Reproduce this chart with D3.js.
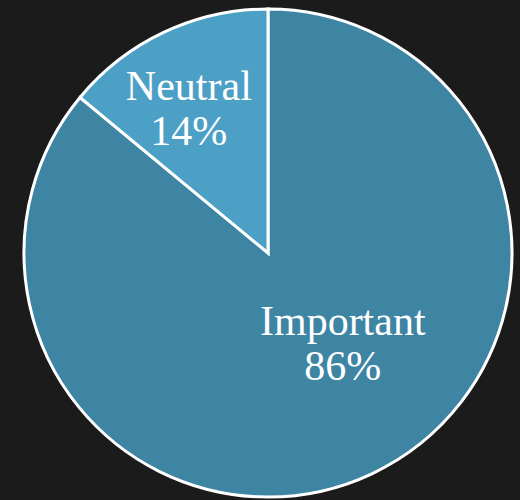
<!DOCTYPE html>
<html>
<head>
<meta charset="utf-8">
<script src="https://cdn.jsdelivr.net/npm/d3@7"></script>
<style>
html,body{margin:0;padding:0;background:#1b1b1b;}
svg{display:block;}
</style>
</head>
<body>
<svg id="chart" width="520" height="500"></svg>
<script>
const categories = ["Important", "Neutral"];
const values = [86, 14];
const labels = ["86%", "14%"];
const colors = ["#3e84a3", "#4da0c5"];

const W = 520, H = 500;
const cx = 268, cy = 253, R = 244;
const svg = d3.select("#chart");
svg.append("rect").attr("width", W).attr("height", H).attr("fill", "#1b1b1b");

const g = svg.append("g").attr("transform", `translate(${cx},${cy})`);

const pie = d3.pie().sort(null).value(d => d.v)
  .startAngle(0).endAngle(2 * Math.PI);
const data = categories.map((c, i) => ({c, v: values[i], l: labels[i], col: colors[i]}));
const arcs = pie(data);
const arc = d3.arc().innerRadius(0).outerRadius(R);

g.selectAll("path").data(arcs).join("path")
  .attr("d", arc)
  .attr("fill", d => d.data.col)
  .attr("stroke", "#ffffff")
  .attr("stroke-width", 3)
  .attr("stroke-linejoin", "miter");

// label placement (angle in radians clockwise from 12 o'clock, radius as fraction of R)
function labelPos(d) {
  const big = d.data.v > 50;
  const a = big ? 2.449 : -0.499;
  const r = (big ? 0.48 : 0.678) * R;
  return [Math.sin(a) * r, -Math.cos(a) * r];
}

g.selectAll("text.lbl").data(arcs).join("text")
  .attr("class", "lbl")
  .attr("transform", d => { const p = labelPos(d); return `translate(${p[0]},${p[1]})`; })
  .attr("text-anchor", "middle")
  .attr("font-family", "'Liberation Serif','Times New Roman',serif")
  .attr("font-size", 42)
  .attr("fill", "#ffffff")
  .each(function(d) {
    const t = d3.select(this);
    t.append("tspan").attr("x", 0).attr("y", -8).text(d.data.c);
    t.append("tspan").attr("x", 0).attr("y", 37).text(d.data.l);
  });
</script>
</body>
</html>
